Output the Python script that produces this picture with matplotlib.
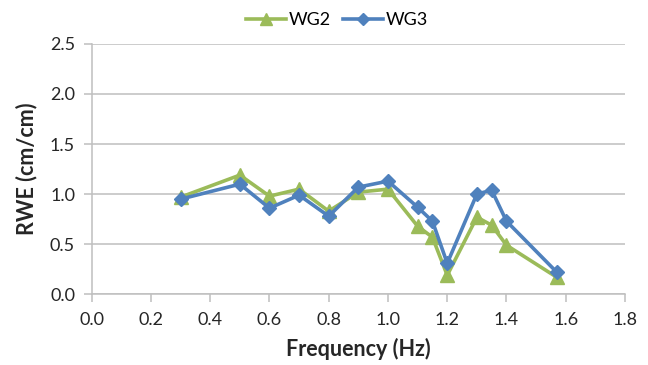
import matplotlib
matplotlib.use("Agg")
import matplotlib.pyplot as plt

plt.rcParams['font.family'] = ['Lato', 'DejaVu Sans']

freq = [0.3, 0.5, 0.6, 0.7, 0.8, 0.9, 1.0, 1.1, 1.15, 1.2, 1.3, 1.35, 1.4, 1.57]
wg2 = [0.97, 1.19, 0.98, 1.05, 0.83, 1.02, 1.05, 0.68, 0.57, 0.19, 0.77, 0.69, 0.49, 0.17]
wg3 = [0.95, 1.10, 0.86, 0.99, 0.78, 1.07, 1.13, 0.87, 0.73, 0.31, 1.00, 1.04, 0.73, 0.22]

x_ticks = [0.0, 0.2, 0.4, 0.6, 0.8, 1.0, 1.2, 1.4, 1.6, 1.8]
y_ticks = [0.0, 0.5, 1.0, 1.5, 2.0, 2.5]

green = '#9BBB59'
blue = '#4F81BD'
grid_col = '#BFBFBF'

fig = plt.figure(figsize=(6.48, 3.65), dpi=100)
ax = fig.add_axes([0.1415, 0.1937, 0.823, 0.686])

ax.plot(freq, wg2, color=green, lw=2.6, marker='^', ms=10.5, label='WG2', zorder=3)
ax.plot(freq, wg3, color=blue, lw=2.6, marker='D', ms=7.5, label='WG3', zorder=4)

ax.set_xlim(0, 1.8)
ax.set_ylim(0, 2.5)
ax.set_xticks(x_ticks)
ax.set_yticks(y_ticks)
ax.set_xticklabels([f'{v:.1f}' for v in x_ticks])
ax.set_yticklabels([f'{v:.1f}' for v in y_ticks])

ax.yaxis.grid(True, color=grid_col, lw=1.1)
ax.set_axisbelow(True)
for side in ('top', 'right'):
    ax.spines[side].set_visible(False)
for side in ('left', 'bottom'):
    ax.spines[side].set_color(grid_col)
    ax.spines[side].set_linewidth(1.1)
ax.tick_params(axis='both', colors=grid_col, length=6, width=1.1,
               labelcolor='#262626', labelsize=13)
ax.tick_params(axis='x', pad=7)
ax.tick_params(axis='y', pad=6)

ax.set_xlabel('Frequency (Hz)', fontsize=15.5, fontweight='bold', color='#262626', labelpad=7)
ax.set_ylabel('RWE (cm/cm)', fontsize=15.5, fontweight='bold', color='#262626', labelpad=9)

fig.legend(loc='center', bbox_to_anchor=(337 / 648, 1 - 20 / 365), ncol=2,
           frameon=False, fontsize=13, handlelength=2.2, handletextpad=0.15,
           columnspacing=0.7, markerscale=0.8)

fig.savefig('out.png', dpi=100)
